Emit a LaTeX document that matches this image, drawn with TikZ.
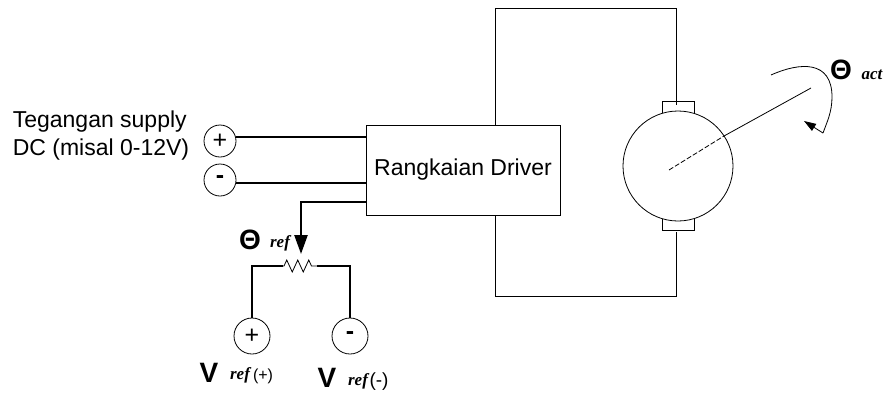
\documentclass[tikz,border=0pt]{standalone}
\usepackage{fontspec}
\setmainfont{Liberation Sans}
\newfontfamily\reffont{Liberation Serif}
\usetikzlibrary{arrows.meta}
\usetikzlibrary{decorations.pathmorphing}

\begin{document}
\begin{tikzpicture}[x=1pt,y=-1pt,line width=0.8pt,node distance=98pt,
	terminal/.style={circle,draw,minimum size=32pt,inner sep=0pt,font=\fontsize{25}{25}\selectfont},
	bigterminal/.style={terminal,minimum size=36pt},
	brush/.style={draw,minimum width=32pt,minimum height=16pt,inner sep=0pt},
	thick wire/.style={line width=2.4pt},
	symb/.style={inner sep=0pt,font=\fontsize{28}{28}\selectfont\bfseries},
	idx/.style={inner sep=0pt,font=\fontsize{17}{17}\selectfont\reffont\bfseries\itshape}]

\useasboundingbox (0,0) rectangle (884,392);

\node[draw,minimum width=194pt,minimum height=90pt,inner sep=0pt,font=\fontsize{23}{23}\selectfont](driver) at (463,170){Rangkaian Driver};
\node[brush](brushtop) at (678,109){};
\node[brush](brushbot) at (678,222){};
\node[circle,draw,fill=white,minimum size=110pt,inner sep=0pt](motor) at (678,166){};

\node[terminal](supplyp) at (220,141){\raisebox{-2pt}{+}};
\node[terminal](supplyn) at (220,180){\raisebox{-3pt}{\bfseries -}};
\node[bigterminal](refp) at (252,336){\raisebox{-2pt}{+}};
\node[bigterminal](refn)[right of=refp]{\raisebox{-2pt}{\bfseries -}};
\node[align=left,inner sep=0pt,font=\fontsize{23}{28}\selectfont](supplytxt) at (101,136){Tegangan supply\\DC (misal 0-12V)};

\coordinate(toptop) at (495,8);
\coordinate(topend) at (676,105);
\coordinate(botbot) at (495,296);
\coordinate(botend) at (676,232);
\coordinate(potleft) at (283,266);
\coordinate(potright) at (317,266);
\coordinate(wiper) at (301,254);
\coordinate(shaftin) at (669,170);
\coordinate(shaftout) at (811,88);
\coordinate(shaftmid) at (724,136);
\coordinate(arcstart) at (771,75);
\coordinate(arcend) at (823,133);
\coordinate(arctip) at (804,121);

% motor wires
\draw (toptop)--(toptop|-driver.north);
\draw (toptop)-|(topend);
\draw (botbot)--(botbot|-driver.south);
\draw (botbot)-|(botend);

% supply and pot
\draw[thick wire] (supplyp.east|-0,137)--(driver.west|-0,137);
\draw[thick wire] (supplyn.east|-0,183)--(driver.west|-0,183);
\draw[thick wire,-{Triangle[width=13pt,length=19pt]}] (driver.west|-0,202)-|(wiper);
\draw[thick wire] (potleft)-|(refp);
\draw[thick wire] (potright)-|(refn);
\draw[decorate,decoration={zigzag,segment length=11pt,amplitude=6pt,pre length=1pt,post length=1pt}] (potleft)--(potright);

% shaft
\draw[dashed,dash pattern=on 5pt off 2pt] (shaftin)--(shaftmid);
\draw (shaftmid)--(shaftout);
\draw (arcstart) .. controls (800,62) and (832,60) .. (832,97) .. controls (832,112) and (827,122) .. (arcend);
\draw[-{Triangle[width=8pt,length=12pt]}] (arcend)--(arctip);

% labels
\node[symb](thetaact) at (841,70){Θ};
\node[idx](act) at (872,75){act};
\node[symb](thetaref) at (250,240){Θ};
\node[idx](ref) at (280,243){ref};
\node[symb](vp) at (209,373){V};
\node[idx](vpi) at (240,375){ref};
\node[inner sep=0pt,font=\fontsize{16}{16}\selectfont](vps) at (263,376){(+)};
\node[symb](vn) at (327,378){V};
\node[idx](vni) at (358,381){ref};
\node[inner sep=0pt,font=\fontsize{19}{19}\selectfont](vns) at (379,382){(-)};

\end{tikzpicture}
\end{document}
